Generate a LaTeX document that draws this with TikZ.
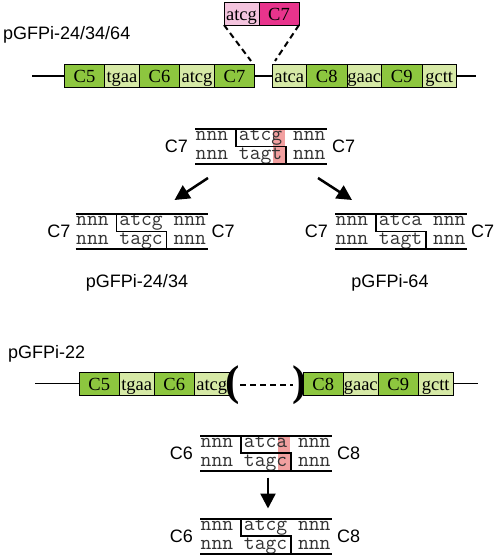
\documentclass[tikz,border=0pt]{standalone}
\usepackage{fontspec}
\setmainfont{Liberation Serif}
\setsansfont{Liberation Sans}
\usetikzlibrary{positioning,calc,arrows.meta}

\definecolor{cgreen}{RGB}{141,198,63}
\definecolor{sgreen}{RGB}{214,233,166}
\definecolor{inspink}{RGB}{244,196,222}
\definecolor{insmag}{RGB}{232,52,140}
\definecolor{hlred}{RGB}{242,160,160}

\tikzset{
  cbox/.style={draw, line width=1pt, fill=cgreen, minimum width=40.5pt, minimum height=23pt,
    inner sep=0pt, outer sep=0pt, text height=15pt, text depth=2pt,
    font=\fontsize{18.5}{18.5}\selectfont},
  sbox/.style={cbox, fill=sgreen, minimum width=34.5pt},
  bb/.style={line width=1.5pt},
  gap/.style={line width=2pt, dash pattern=on 6pt off 4pt},
  blk/.style={minimum width=132pt, minimum height=35pt, inner sep=0pt, outer sep=0pt},
  strand/.style={line width=2pt},
  nick/.style={line width=1.5pt},
  seq/.style={anchor=base west, inner sep=0pt, text=black!80, font=\fontsize{21}{21}\ttfamily},
  lab/.style={inner sep=0pt, font=\sffamily\fontsize{18}{18}\selectfont},
  arr/.style={line width=2.5pt, -{Triangle[length=15pt,width=15pt]}},
  paren/.style={inner sep=0pt, font=\bfseries\fontsize{43}{43}\selectfont}
}

\begin{document}
\begin{tikzpicture}[x=1pt,y=-1pt]
\useasboundingbox (0,0) rectangle (498,557);

% pGFPi-24/34/64
\node[lab, anchor=base west] (t1) at (3,39) {pGFPi-24/34/64};
\node[sbox, fill=inspink, minimum width=35pt] (i1) at (241.5,13.5) {atcg};
\node[cbox, fill=insmag, minimum width=40pt, right=0pt of i1] (i2) {C7};

\coordinate (la) at (32,76);
\coordinate (ra) at (476,76);
\node[cbox] (a5) at (84.5,76) {C5};
\node[sbox, right=0pt of a5] (a56) {tgaa};
\node[cbox, right=0pt of a56] (a6) {C6};
\node[sbox, right=0pt of a6] (a67) {atcg};
\node[cbox, right=0pt of a67] (a7) {C7};
\node[sbox] (a78) at (289.25,76) {atca};
\node[cbox, right=0pt of a78] (a8) {C8};
\node[sbox, right=0pt of a8] (a89) {gaac};
\node[cbox, right=0pt of a89] (a9) {C9};
\node[sbox, right=0pt of a9] (a910) {gctt};
\draw[bb] (la) -- (a5);
\draw[bb] (a7) -- (a78);
\draw[bb] (a910) -- (ra);

\coordinate (gl) at (251,61);
\coordinate (gr) at (275,61);
\draw[gap] (i1.south west) -- (gl);
\draw[gap] (i2.south east) -- (gr);

% C7 / C7
\node[blk] (d1) at (261,146.5) {};
\begin{scope}[shift={(d1.north west)}]
  \fill[hlred] (77.5,0) rectangle (89.5,35);
  \draw[nick] (41,0) -- (41,17.5) -- (91,17.5) -- (91,35);
  \node[seq] (d1a) at (0.5,11.5) {nnn atcg nnn};
  \node[seq] (d1b) at (0.5,30.5) {nnn tagt nnn};
\end{scope}
\draw[strand] (d1.north west) -- (d1.north east);
\draw[strand] (d1.south west) -- (d1.south east);
\node[lab, anchor=east] (d1l) at ($(d1.west)+(-7,0)$) {C7};
\node[lab, anchor=west] (d1r) at ($(d1.east)+(5,0)$) {C7};

\node[blk] (d2) at (141.5,231.5) {};
\begin{scope}[shift={(d2.north west)}]
  \draw[nick] (41,0) -- (41,17.5) -- (91,17.5) -- (91,35);
  \node[seq] (d2a) at (0.5,11.5) {nnn atcg nnn};
  \node[seq] (d2b) at (0.5,30.5) {nnn tagc nnn};
\end{scope}
\draw[strand] (d2.north west) -- (d2.north east);
\draw[strand] (d2.south west) -- (d2.south east);
\node[lab, anchor=east] (d2l) at ($(d2.west)+(-5,0)$) {C7};
\node[lab, anchor=west] (d2r) at ($(d2.east)+(4,0)$) {C7};

\node[blk] (d3) at (401,231.5) {};
\begin{scope}[shift={(d3.north west)}]
  \draw[nick] (41,0) -- (41,17.5) -- (91,17.5) -- (91,35);
  \node[seq] (d3a) at (0.5,11.5) {nnn atca nnn};
  \node[seq] (d3b) at (0.5,30.5) {nnn tagt nnn};
\end{scope}
\draw[strand] (d3.north west) -- (d3.north east);
\draw[strand] (d3.south west) -- (d3.south east);
\node[lab, anchor=east] (d3l) at ($(d3.west)+(-7,0)$) {C7};
\node[lab, anchor=west] (d3r) at ($(d3.east)+(4,0)$) {C7};

\draw[arr] ($(d1.south)+(-53,14)$) -- ($(d2.north east)+(-33,-14)$);
\draw[arr] ($(d1.south)+(57,14)$) -- ($(d3.north west)+(17,-14)$);

\node[lab, anchor=base] (t2) at (137,287) {pGFPi-24/34};
\node[lab, anchor=base] (t3) at (390,287) {pGFPi-64};

% pGFPi-22
\node[lab, anchor=base west] (t4) at (8,358) {pGFPi-22};
\coordinate (lb) at (35,383.5);
\coordinate (rb) at (478,383.5);
\node[cbox] (b5) at (99.25,383.5) {C5};
\node[sbox, right=0pt of b5] (b56) {tgaa};
\node[cbox, right=0pt of b56] (b6) {C6};
\node[sbox, right=0pt of b6] (b67) {atcg};
\node[paren] (lp) at (233,385) {(};
\node[paren] (rp) at (300,385) {)};
\node[cbox] (b8) at (323.25,383.5) {C8};
\node[sbox, right=0pt of b8] (b89) {gaac};
\node[cbox, right=0pt of b89] (b9) {C9};
\node[sbox, right=0pt of b9] (b910) {gctt};
\draw[bb] (lb) -- (b5);
\draw[gap] (lp) -- (rp);
\draw[bb] (b910) -- (rb);

% C6 / C8
\node[blk] (d4) at (266,453) {};
\begin{scope}[shift={(d4.north west)}]
  \fill[hlred] (77.5,0) rectangle (89.5,35);
  \draw[nick] (41,0) -- (41,17.5) -- (91,17.5) -- (91,35);
  \node[seq] (d4a) at (0.5,11.5) {nnn atca nnn};
  \node[seq] (d4b) at (0.5,30.5) {nnn tagc nnn};
\end{scope}
\draw[strand] (d4.north west) -- (d4.north east);
\draw[strand] (d4.south west) -- (d4.south east);
\node[lab, anchor=east] (d4l) at ($(d4.west)+(-7,0)$) {C6};
\node[lab, anchor=west] (d4r) at ($(d4.east)+(5,0)$) {C8};

\node[blk] (d5) at (266,536) {};
\begin{scope}[shift={(d5.north west)}]
  \draw[nick] (41,0) -- (41,17.5) -- (91,17.5) -- (91,35);
  \node[seq] (d5a) at (0.5,11.5) {nnn atcg nnn};
  \node[seq] (d5b) at (0.5,30.5) {nnn tagc nnn};
\end{scope}
\draw[strand] (d5.north west) -- (d5.north east);
\draw[strand] (d5.south west) -- (d5.south east);
\node[lab, anchor=east] (d5l) at ($(d5.west)+(-7,0)$) {C6};
\node[lab, anchor=west] (d5r) at ($(d5.east)+(5,0)$) {C8};

\draw[arr] ($(d4.south)+(2,7)$) -- ($(d5.north)+(2,-10)$);

\end{tikzpicture}
\end{document}
